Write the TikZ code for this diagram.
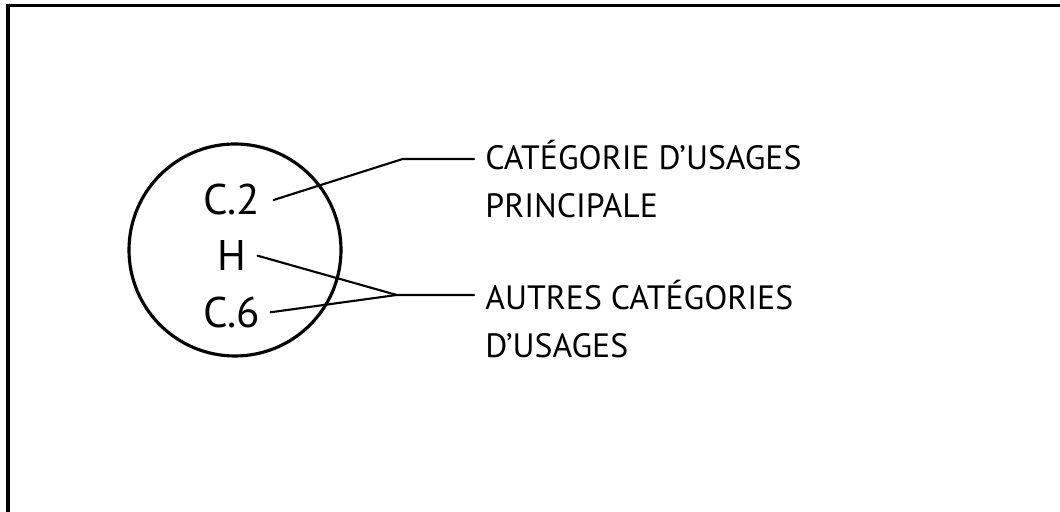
\documentclass[tikz,border=0pt]{standalone}
\usepackage{fontspec}
\setmainfont{PT Sans}
\begin{document}
\begin{tikzpicture}[thick,
  usage/.style={anchor=base,inner sep=0pt,font=\fontsize{12.2}{14}\selectfont},
  legend/.style={anchor=west,align=left,inner xsep=0.1cm,inner ysep=0pt,
    font=\fontsize{9.6}{13.4}\selectfont},
  leader/.style={line width=0.6pt,line cap=round,line join=round}]

\useasboundingbox (0,0) rectangle (10.6,5.12);

% frame, only the top and left sides are in view
\draw [line width=0.9pt] (0.08,0) -- (0.08,5.065) -- (10.6,5.065);

% the ring with the usage categories
\node [draw,circle,line width=0.9pt,minimum size=2.12cm,inner sep=0pt] (ring) at (2.35,2.62) {};

\node [usage] (c2) at (2.317,2.97) {C.2};
\node [usage] (h)  at (2.317,2.413) {H};
\node [usage] (c6) at (2.317,1.847) {C.6};

\coordinate (bendA) at (4.027,3.53);
\coordinate (bendB) at (3.967,2.17);

\node [legend] (lblmain)  at (4.74,3.33) {CATÉGORIE D’USAGES\\PRINCIPALE};
\node [legend] (lblother) at (4.74,1.93) {AUTRES CATÉGORIES\\D’USAGES};

\draw [leader] ([xshift=0.12cm]c2.east) -- (bendA) -- (bendA -| lblmain.west);
\draw [leader] ([xshift=0.1cm]h.east) -- (bendB) -- (bendB -| lblother.west);
\draw [leader] ([xshift=0.09cm]c6.east) -- (bendB);

\end{tikzpicture}
\end{document}
